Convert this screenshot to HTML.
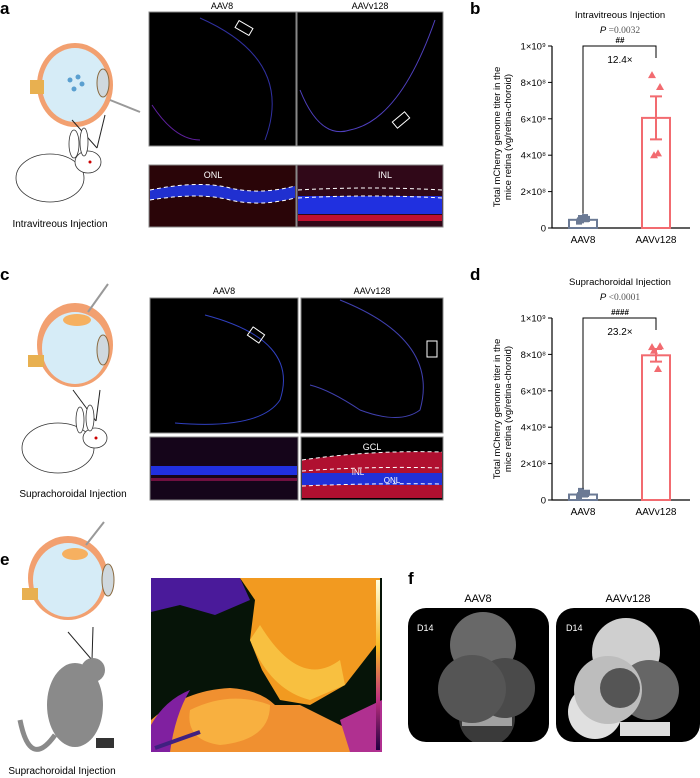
<!DOCTYPE html>
<html><head><meta charset="utf-8"><style>
body{margin:0;background:#fff;}
svg{display:block;font-family:"Liberation Sans",sans-serif;}
</style></head><body>
<svg id="fig" width="700" height="778" viewBox="0 0 700 778" xmlns="http://www.w3.org/2000/svg">
<defs>
<linearGradient id="tg" x1="0" y1="0" x2="0" y2="1"><stop offset="0" stop-color="#ffffe0"/><stop offset="0.4" stop-color="#f8b820"/><stop offset="0.7" stop-color="#c03080"/><stop offset="1" stop-color="#200040"/></linearGradient>
<clipPath id="cf1"><rect x="408" y="608" width="141" height="134" rx="18"/></clipPath>
<clipPath id="cf2"><rect x="556" y="608" width="144" height="134" rx="18"/></clipPath>
<clipPath id="cth"><rect x="151" y="578" width="231" height="174"/></clipPath>
</defs>
<g font-weight="bold" font-size="17">
<text x="0" y="14">a</text><text x="470" y="14">b</text><text x="0" y="280">c</text><text x="470" y="280">d</text><text x="0" y="565">e</text><text x="408" y="584">f</text>
</g>

<g>
<ellipse cx="75" cy="85" rx="38" ry="42" fill="#f2a070"/><ellipse cx="75" cy="85" rx="33" ry="37" fill="#d6ecf7"/>
<rect x="30" y="80" width="14" height="14" fill="#e8b050"/>
<ellipse cx="103" cy="83" rx="6" ry="14" fill="#cfd8de" stroke="#8a6a40"/>
<circle cx="70" cy="80" r="2.5" fill="#5a9fd0"/><circle cx="78" cy="77" r="2.5" fill="#5a9fd0"/><circle cx="82" cy="84" r="2.5" fill="#5a9fd0"/><circle cx="74" cy="89" r="2.5" fill="#5a9fd0"/>
<line x1="110" y1="100" x2="140" y2="112" stroke="#999" stroke-width="2"/>
<line x1="72" y1="120" x2="97" y2="148" stroke="#222"/><line x1="97" y1="148" x2="105" y2="115" stroke="#222"/>
</g>
<g fill="#fff" stroke="#333" stroke-width="0.8">
<ellipse cx="50" cy="178" rx="34" ry="24"/><ellipse cx="88" cy="162" rx="13" ry="11"/><ellipse cx="74" cy="144" rx="5" ry="14"/><ellipse cx="84" cy="142" rx="4" ry="14"/>
<circle cx="90" cy="162" r="1.5" fill="#c00" stroke="none"/>
</g>
<text x="60" y="227" font-size="10" text-anchor="middle">Intravitreous Injection</text>

<g>
<text x="222" y="9" font-size="9" text-anchor="middle">AAV8</text><text x="370" y="9" font-size="9" text-anchor="middle">AAVv128</text>
<rect x="149" y="12" width="147" height="134" fill="#000" stroke="#888"/>
<rect x="297" y="12" width="146" height="134" fill="#000" stroke="#888"/>
<path d="M200 18 Q295 60 265 140" stroke="#3030a0" fill="none"/><path d="M152 105 Q175 140 200 140" stroke="#6020a0" fill="none"/>
<rect x="236" y="24" width="16" height="8" fill="none" stroke="#fff" transform="rotate(30 244 28)"/>
<path d="M300 90 Q320 140 350 130 Q400 120 435 20" stroke="#5040c0" fill="none"/>
<rect x="393" y="116" width="16" height="8" fill="none" stroke="#fff" transform="rotate(-40 401 120)"/>
<rect x="149" y="165" width="147" height="62" fill="#2a0508" stroke="#888"/>
<path d="M150 190 Q200 180 230 188 Q260 195 295 186 L295 198 Q260 207 230 200 Q200 192 150 200Z" fill="#2030d0"/>
<path d="M150 190 Q200 180 230 188 Q260 195 295 186" stroke="#fff" stroke-dasharray="4 3" fill="none"/>
<path d="M150 200 Q200 192 230 200 Q260 207 295 198" stroke="#fff" stroke-dasharray="4 3" fill="none"/>
<text x="213" y="178" fill="#fff" font-size="9" text-anchor="middle">ONL</text>
<rect x="297" y="165" width="146" height="62" fill="#300818" stroke="#888"/>
<rect x="298" y="196" width="144" height="18" fill="#2030e0"/>
<rect x="298" y="215" width="144" height="6" fill="#c01030"/>
<path d="M298 190 Q370 186 442 190 M298 198 Q370 194 442 198" stroke="#fff" stroke-dasharray="4 3" fill="none"/>
<text x="385" y="178" fill="#fff" font-size="9" text-anchor="middle">INL</text>
</g>

<g>
<ellipse cx="75" cy="345" rx="38" ry="42" fill="#f2a070"/><ellipse cx="75" cy="348" rx="33" ry="36" fill="#d6ecf7"/>
<ellipse cx="77" cy="320" rx="14" ry="6" fill="#f6b060"/>
<rect x="28" y="355" width="16" height="12" fill="#e8b050"/>
<ellipse cx="103" cy="350" rx="6" ry="15" fill="#cfd8de" stroke="#8a6a40"/>
<line x1="88" y1="312" x2="108" y2="284" stroke="#999" stroke-width="2"/>
<line x1="73" y1="390" x2="96" y2="421" stroke="#222"/><line x1="96" y1="421" x2="100" y2="390" stroke="#222"/>
</g>
<g fill="#fff" stroke="#333" stroke-width="0.8">
<ellipse cx="58" cy="448" rx="36" ry="25"/><ellipse cx="95" cy="438" rx="12" ry="10"/><ellipse cx="80" cy="420" rx="4" ry="13"/><ellipse cx="90" cy="418" rx="4" ry="13"/>
<circle cx="96" cy="438" r="1.5" fill="#c00" stroke="none"/>
</g>
<text x="73" y="497" font-size="10" text-anchor="middle">Suprachoroidal Injection</text>

<g>
<text x="224" y="294" font-size="9" text-anchor="middle">AAV8</text><text x="372" y="294" font-size="9" text-anchor="middle">AAVv128</text>
<rect x="150" y="298" width="148" height="135" fill="#000" stroke="#888"/>
<rect x="301" y="298" width="142" height="135" fill="#000" stroke="#888"/>
<path d="M205 315 Q300 340 280 400 Q260 430 175 423" stroke="#3040c0" fill="none"/>
<rect x="249" y="330" width="14" height="10" fill="none" stroke="#fff" transform="rotate(35 256 335)"/>
<path d="M340 300 Q440 340 420 410 Q400 425 360 410 Q330 390 310 385" stroke="#4040b0" fill="none"/>
<rect x="427" y="341" width="10" height="16" fill="none" stroke="#fff"/>
<rect x="150" y="437" width="148" height="63" fill="#15051a" stroke="#888"/>
<rect x="151" y="466" width="146" height="9" fill="#2030e0"/><rect x="151" y="478" width="146" height="3" fill="#701040"/>
<rect x="301" y="437" width="142" height="63" fill="#000" stroke="#888"/>
<path d="M302 460 Q370 450 442 452 L442 498 L302 498Z" fill="#b01030"/>
<rect x="302" y="473" width="140" height="12" fill="#2030d8"/>
<path d="M302 460 Q370 450 442 452 M302 471 Q370 466 442 468 M302 486 Q370 483 442 484" stroke="#fff" stroke-dasharray="4 3" fill="none"/>
<text x="372" y="450" fill="#fff" font-size="9" text-anchor="middle">GCL</text>
<text x="358" y="475" fill="#fff" font-size="8" text-anchor="middle">INL</text>
<text x="392" y="483" fill="#fff" font-size="8" text-anchor="middle">ONL</text>
</g>

<g>
<ellipse cx="68" cy="578" rx="40" ry="42" fill="#f2a070"/><ellipse cx="68" cy="580" rx="35" ry="37" fill="#d6ecf7"/>
<ellipse cx="75" cy="554" rx="13" ry="6" fill="#f6b060"/>
<rect x="22" y="588" width="16" height="12" fill="#e8b050"/>
<ellipse cx="108" cy="580" rx="6" ry="16" fill="#cfd8de" stroke="#8a6a40"/>
<line x1="86" y1="545" x2="104" y2="522" stroke="#999" stroke-width="2"/>
<line x1="68" y1="632" x2="92" y2="660" stroke="#222"/><line x1="92" y1="660" x2="93" y2="627" stroke="#222"/>
</g>
<g fill="#8a8a8a">
<ellipse cx="75" cy="705" rx="28" ry="42"/><circle cx="93" cy="670" r="12"/>
<path d="M55 735 Q30 770 20 720" stroke="#8a8a8a" stroke-width="5" fill="none"/>
<rect x="96" y="738" width="18" height="10" fill="#333"/>
</g>
<text x="62" y="774" font-size="10" text-anchor="middle">Suprachoroidal Injection</text>
<g clip-path="url(#cth)">
<rect x="151" y="578" width="231" height="174" fill="#061408"/>
<path d="M151 578 L240 578 L250 600 L215 615 L180 605 L151 612Z" fill="#4a1a9a"/>
<path d="M240 578 L380 578 L380 640 L345 685 L310 705 L280 700 L262 670 L250 640 L255 600Z" fill="#f29a20"/>
<path d="M250 640 Q270 690 310 700 L345 685 L340 660 Q300 690 260 625Z" fill="#f8c040"/>
<path d="M151 752 L151 720 Q185 690 230 688 Q260 690 275 705 L300 705 L330 720 L360 735 L382 730 L382 752Z" fill="#f09030"/>
<path d="M190 710 Q230 690 270 705 Q270 740 220 745 Q185 740 190 710Z" fill="#f8b040"/>
<path d="M151 725 Q165 700 190 690 Q175 715 170 752 L151 752Z" fill="#8020a0"/>
<path d="M340 720 L382 700 L382 752 L350 752Z" fill="#b03090"/>
<line x1="155" y1="748" x2="200" y2="732" stroke="#402080" stroke-width="4"/>
<rect x="376" y="580" width="4" height="170" fill="url(#tg)"/>
</g>

<g>
<text x="478" y="602" font-size="11" text-anchor="middle">AAV8</text><text x="628" y="602" font-size="11" text-anchor="middle">AAVv128</text>
<rect x="408" y="608" width="141" height="134" rx="18" fill="#000"/>
<rect x="556" y="608" width="144" height="134" rx="18" fill="#000"/>
<g clip-path="url(#cf1)">
<circle cx="487" cy="718" r="28" fill="#3a3a3a"/><rect x="462" y="712" width="50" height="14" fill="#bbb" opacity="0.8"/>
<circle cx="483" cy="645" r="33" fill="#686868"/>
<circle cx="505" cy="688" r="30" fill="#4a4a4a"/>
<circle cx="472" cy="689" r="34" fill="#555"/>
</g>
<g clip-path="url(#cf2)">
<circle cx="595" cy="712" r="27" fill="#e0e0e0"/>
<circle cx="626" cy="652" r="34" fill="#cfcfcf"/>
<circle cx="649" cy="690" r="30" fill="#666"/>
<circle cx="608" cy="690" r="34" fill="#bdbdbd"/><circle cx="620" cy="688" r="20" fill="#555"/>
<rect x="620" y="722" width="50" height="14" fill="#ddd"/>
</g>
<text x="417" y="631" fill="#fff" font-size="9">D14</text><text x="566" y="631" fill="#fff" font-size="9">D14</text>
</g>

<g id="chartB"></g>
<g id="chartD"></g>
</svg>
<script>
const categories = ["AAV8", "AAVv128"];
const tickValues = [0, 2e8, 4e8, 6e8, 8e8, 1e9];
const tickLabels = ["0", "2×10⁸", "4×10⁸", "6×10⁸", "8×10⁸", "1×10⁹"];
const bMeans = [0.45e8, 6.05e8];
const bSem = [0.08e8, 1.18e8];
const bPointsAAV8 = [0.35e8, 0.5e8, 0.55e8, 0.6e8, 0.42e8];
const bPointsV128 = [8.4e8, 7.75e8, 4.0e8, 4.1e8];
const dMeans = [0.3e8, 7.95e8];
const dSem = [0.08e8, 0.35e8];
const dPointsAAV8 = [0.2e8, 0.4e8, 0.5e8, 0.3e8];
const dPointsV128 = [8.4e8, 8.45e8, 8.2e8, 7.2e8];
const NS = "http://www.w3.org/2000/svg";
function mk(p, tag, at) { const e = document.createElementNS(NS, tag); for (const k in at) e.setAttribute(k, at[k]); p.appendChild(e); return e; }
function drawChart(gid, cfg) {
  const g = document.getElementById(gid);
  const x0 = 552, y0 = cfg.y0, yTop = cfg.yTop;
  const ys = v => y0 - (v / 1e9) * (y0 - yTop);
  const xs = i => [583, 656][i];
  const colors = ["#6b7a95", "#f26b70"];
  const ax = mk(g, "path", { d: `M${x0} ${yTop} L${x0} ${y0} L690 ${y0}`, stroke: "#000", fill: "none", "stroke-width": 1.2 });
  
  
  tickValues.forEach((v, i) => {
    mk(g, "line", { x1: x0 - 4, x2: x0, y1: ys(v), y2: ys(v), stroke: "#000" });
    const t = mk(g, "text", { x: x0 - 6, y: ys(v) + 3.5, "font-size": 9.5, "text-anchor": "end" });
    t.textContent = tickLabels[i];
    
    
  });
  const yt = mk(g, "text", { transform: `translate(${cfg.tx},${(y0 + yTop) / 2}) rotate(-90)`, "font-size": 9.5, "text-anchor": "middle" });
  yt.innerHTML = `<tspan x="0" dy="0">Total mCherry genome titer in the</tspan><tspan x="0" dy="11">mice retina (vg/retina-choroid)</tspan>`;
  
  
  categories.forEach((c, i) => {
    const bar = mk(g, "rect", { x: xs(i) - 14, y: ys(cfg.means[i]), width: 28, height: y0 - ys(cfg.means[i]), fill: "none", stroke: colors[i], "stroke-width": 2 });
    
    
    const hi = ys(cfg.means[i] + cfg.sem[i]), lo = ys(cfg.means[i] - cfg.sem[i]);
    mk(g, "path", { d: `M${xs(i)} ${hi} L${xs(i)} ${lo} M${xs(i) - 6} ${hi} L${xs(i) + 6} ${hi} M${xs(i) - 6} ${lo} L${xs(i) + 6} ${lo}`, stroke: colors[i], "stroke-width": 2, fill: "none" });
    const lab = mk(g, "text", { x: xs(i), y: y0 + 15, "font-size": 10, "text-anchor": "middle" });
    lab.textContent = c;
    
    
    const pts = i === 0 ? cfg.p0 : cfg.p1;
    pts.forEach((v, j) => {
      const px = xs(i) + (j % 2 ? 4 : -4) * (j > 1 ? 0.5 : 1);
      let pt;
      if (i === 0) pt = mk(g, "rect", { x: px - 3, y: ys(v) - 3, width: 6, height: 6, fill: colors[0] });
      else pt = mk(g, "path", { d: `M${px} ${ys(v) - 4} L${px + 4} ${ys(v) + 3} L${px - 4} ${ys(v) + 3}Z`, fill: colors[1] });
      
      
    });
  });
  const br = ys(1e9);
  mk(g, "path", { d: `M${xs(0)} ${ys(cfg.means[0]) - 6} L${xs(0)} ${br} L${xs(1)} ${br} L${xs(1)} ${br + 12}`, stroke: "#000", fill: "none" });
  const tt = mk(g, "text", { x: 620, y: cfg.titleY, "font-size": 9.5, "text-anchor": "middle" }); tt.textContent = cfg.title;
  
  
  const pv = mk(g, "text", { x: 620, y: cfg.titleY + 15, "font-size": 9.5, "text-anchor": "middle" });
  pv.innerHTML = `<tspan font-style="italic">P</tspan><tspan font-family="Liberation Serif" fill="#555"> ${cfg.p}</tspan>`;
  
  
  const hs = mk(g, "text", { x: 620, y: br - 3, "font-size": 8, "font-weight": "bold", "text-anchor": "middle" }); hs.textContent = cfg.hash;
  
  
  const fc = mk(g, "text", { x: 620, y: br + 17, "font-size": 10, "text-anchor": "middle" }); fc.textContent = cfg.fold;
  
  
}
drawChart("chartB", { y0: 228, yTop: 46, tx: 500, means: bMeans, sem: bSem, p0: bPointsAAV8, p1: bPointsV128, title: "Intravitreous Injection", titleY: 18, p: "=0.0032", hash: "##", fold: "12.4×" });
drawChart("chartD", { y0: 500, yTop: 318, tx: 500, means: dMeans, sem: dSem, p0: dPointsAAV8, p1: dPointsV128, title: "Suprachoroidal Injection", titleY: 285, p: "<0.0001", hash: "####", fold: "23.2×" });
</script>
</body></html>
